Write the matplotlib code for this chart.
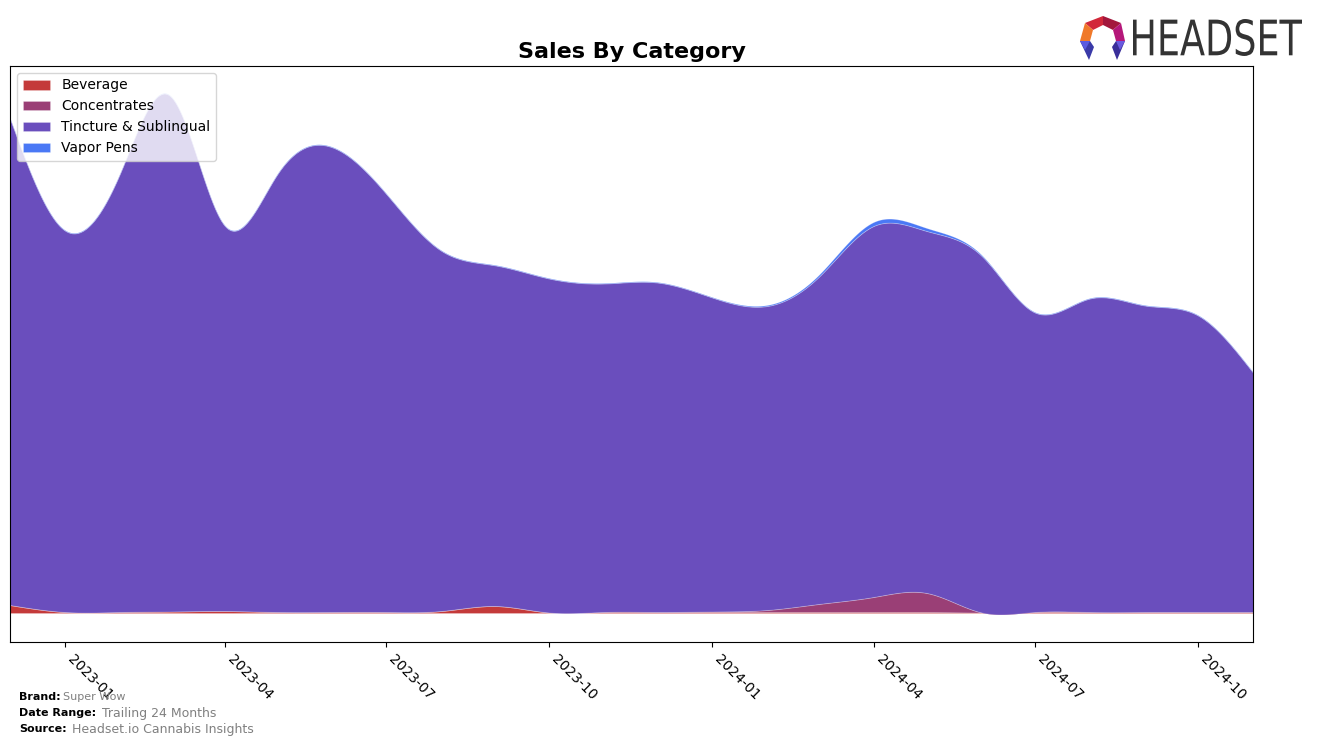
import matplotlib.pyplot as plt
import matplotlib.dates as mdates
from matplotlib.patches import Polygon, PathPatch
from matplotlib.textpath import TextPath
from matplotlib.font_manager import FontProperties
from matplotlib.transforms import Affine2D
import numpy as np
import datetime as dt

# monthly data, Dec 2022 .. Nov 2024
months = [dt.date(2022 + (11 + i) // 12, (11 + i) % 12 + 1, 1) for i in range(24)]
total = [495, 383, 440, 518, 388, 440, 466, 420, 363, 348, 335, 330,
         331, 316, 308, 338, 391, 385, 358, 301, 315, 308, 298, 241]
beverage = [8, 1, 1, 1.5, 2, 1, 1, 1, 2, 7, 0.5, 1,
            1, 1, 1, 1, 1, 1, 0.5, 1, 1, 1, 1, 1]
concentrates = [0, 0, 0, 0, 0, 0, 0, 0, 0, 0, 0, 0,
                0, 0.5, 2, 8, 15, 19, 0, 0, 0, 0, 0, 0]
vapor = [0.5, 0.5, 0.5, 0.5, 0.5, 0.5, 0.5, 0.5, 0.5, 0.5, 0.5, 0.5,
         0.5, 0.5, 1, 2, 4, 3, 1, 0.5, 0.5, 0.5, 0.5, 0.5]
tincture = [t - b - c - v for t, b, c, v in zip(total, beverage, concentrates, vapor)]

names = ['Beverage', 'Concentrates', 'Tincture & Sublingual', 'Vapor Pens']
colors = ['#c43a3a', '#9a3f76', '#6a4ebd', '#4a78f5']
series = [beverage, concentrates, tincture, vapor]


def spline(x, y, xs):
    # natural cubic spline, just for drawing smooth curves
    x = np.asarray(x, float); y = np.asarray(y, float)
    n = len(x); h = np.diff(x)
    A = np.zeros((n, n)); r = np.zeros(n)
    A[0, 0] = A[-1, -1] = 1
    for i in range(1, n - 1):
        A[i, i - 1] = h[i - 1]; A[i, i] = 2 * (h[i - 1] + h[i]); A[i, i + 1] = h[i]
        r[i] = 3 * ((y[i + 1] - y[i]) / h[i] - (y[i] - y[i - 1]) / h[i - 1])
    c = np.linalg.solve(A, r)
    b = (y[1:] - y[:-1]) / h - h * (2 * c[:-1] + c[1:]) / 3
    d = (c[1:] - c[:-1]) / (3 * h)
    idx = np.clip(np.searchsorted(x, xs) - 1, 0, n - 2)
    dx = xs - x[idx]
    return y[idx] + b[idx] * dx + c[idx] * dx ** 2 + d[idx] * dx ** 3


xn = mdates.date2num(months)
xs = np.linspace(xn[0], xn[-1], 800)
xd = mdates.num2date(xs)

fig = plt.figure(figsize=(13.17, 7.45), dpi=100)
ax = fig.add_axes([10 / 1317, 1 - 642 / 745, 1243 / 1317, 576 / 745])

base = np.zeros_like(xs)
for s, c, nm in zip(series, colors, names):
    top = base + spline(xn, s, xs)
    ax.fill_between(xd, base, top, color=c, linewidth=0.6, edgecolor='#ffffff40', label=nm)
    base = top

ax.set_xlim(xn[0], xn[-1])
ax.set_ylim(-29, 547)
ax.set_yticks([])
ax.xaxis.set_major_locator(mdates.MonthLocator(bymonth=[1, 4, 7, 10]))
ax.xaxis.set_major_formatter(mdates.DateFormatter('%Y-%m'))
plt.setp(ax.get_xticklabels(), rotation=-45, ha='left', fontsize=10)
ax.set_title('Sales By Category', fontsize=16, fontweight='bold', pad=6)
ax.legend(loc='upper left', fontsize=10)

# footer
fig.text(19 / 1317, 1 - 697 / 745, 'Brand:', fontsize=8, fontweight='bold', va='center')
fig.text(63 / 1317, 1 - 697 / 745, 'Super Wow', fontsize=8, color='gray', va='center')
fig.text(19 / 1317, 1 - 713 / 745, 'Date Range:', fontsize=8, fontweight='bold', va='center')
fig.text(102 / 1317, 1 - 713 / 745, 'Trailing 24 Months', fontsize=9, color='gray', va='center')
fig.text(19 / 1317, 1 - 729 / 745, 'Source:', fontsize=8, fontweight='bold', va='center')
fig.text(72 / 1317, 1 - 729 / 745, 'Headset.io Cannabis Insights', fontsize=9, color='gray', va='center')

# logo: icon + condensed word mark
lax = fig.add_axes([1066 / 1317, 1 - 62 / 745, 240 / 1317, 50 / 745])
lax.set_xlim(0, 240); lax.set_ylim(0, 50); lax.axis('off')
icon = [
    ([(37, 46), (55, 39), (47, 32), (37, 37)], '#a3173c'),
    ([(37, 46), (19, 39), (27, 32), (37, 37)], '#d2283a'),
    ([(55, 39), (59, 21), (50, 21), (47, 32)], '#b5177a'),
    ([(19, 39), (14, 21), (24, 21), (27, 32)], '#f0792a'),
    ([(59, 21), (50, 21), (46, 15), (51, 2)], '#3a2f9a'),
    ([(14, 21), (24, 21), (28, 15), (23, 2)], '#3a3aa8'),
    ([(59, 21), (50, 21), (54, 12)], '#6a5ae0'),
    ([(14, 21), (24, 21), (19, 12)], '#5a5ae0'),
]
for pts, col in icon:
    lax.add_patch(Polygon(pts, color=col, linewidth=0))
tp = TextPath((0, 0), 'HEADSET', size=50, prop=FontProperties(family='DejaVu Sans'))
bb = tp.get_extents()
sx = 169 / bb.width
sy = 37 / bb.height
tp = tp.transformed(Affine2D().translate(-bb.x0, -bb.y0).scale(sx, sy).translate(67, 6))
lax.add_patch(PathPatch(tp, color='#333333', linewidth=0))

fig.savefig('out.png', dpi=100)
